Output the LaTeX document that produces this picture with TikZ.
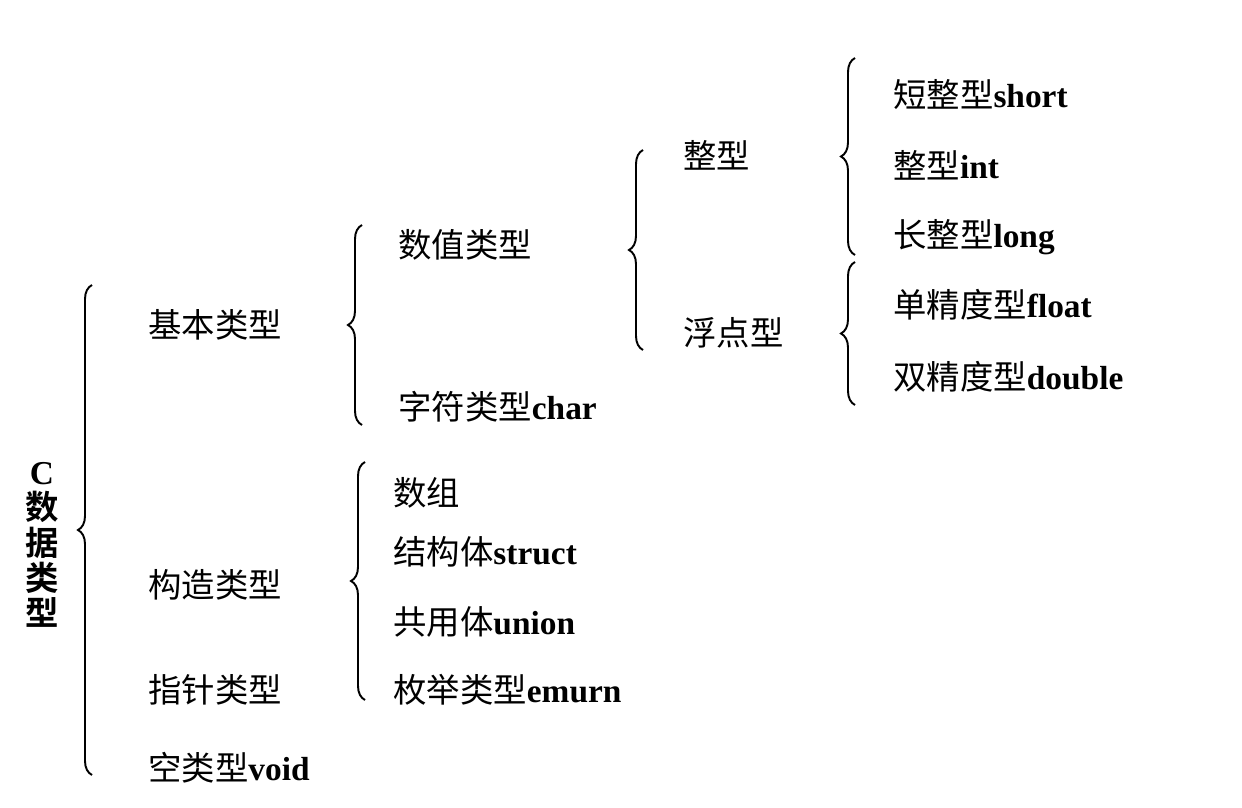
\documentclass[tikz,border=0pt]{standalone}
\usepackage{fontspec}
\setmainfont{Liberation Serif}
\newfontfamily\cjk{Noto Sans CJK SC}[BoldFont={* Bold}]
\usetikzlibrary{decorations.pathreplacing}
\begin{document}
\begin{tikzpicture}[x=0.02cm,y=-0.02cm,
  br/.style={decorate,decoration={brace,amplitude=0.28cm},line width=1.1pt},
  lbl/.style={anchor=west,inner sep=0pt,font=\fontsize{19}{22}\selectfont}]
\useasboundingbox (0,0) rectangle (1242,808);
% root
\node[inner sep=0pt,align=center,font=\fontsize{19}{22}\selectfont\bfseries] (root) at (42,545) {C\\[-2pt]{\cjk 数}\\[-2pt]{\cjk 据}\\[-2pt]{\cjk 类}\\[-2pt]{\cjk 型}};
\coordinate (b1s) at (92,775); \coordinate (b1e) at (92,285);
\draw[br] (b1s) -- (b1e);
\node[lbl] (jb) at (148,325) {\cjk 基本类型};
\node[lbl] (gz) at (148,585) {\cjk 构造类型};
\node[lbl] (zz) at (148,690) {\cjk 指针类型};
\node[lbl] (kong) at (148,768) {{\cjk 空类型}\textbf{void}};
% basic
\coordinate (b2s) at (362,425); \coordinate (b2e) at (362,225);
\draw[br] (b2s) -- (b2e);
\node[lbl] (sz) at (398,245) {\cjk 数值类型};
\node[lbl] (zf) at (398,407) {{\cjk 字符类型}\textbf{char}};
% numeric
\coordinate (b3s) at (643,350); \coordinate (b3e) at (643,150);
\draw[br] (b3s) -- (b3e);
\node[lbl] (zx) at (683,155) {\cjk 整型};
\node[lbl] (fd) at (683,333) {\cjk 浮点型};
% integer
\coordinate (b4s) at (855,255); \coordinate (b4e) at (855,58);
\draw[br] (b4s) -- (b4e);
\node[lbl] (short) at (893,95) {{\cjk 短整型}\textbf{short}};
\node[lbl] (int) at (893,165) {{\cjk 整型}\textbf{int}};
\node[lbl] (long) at (893,237) {{\cjk 长整型}\textbf{long}};
% float
\coordinate (b5s) at (855,405); \coordinate (b5e) at (855,262);
\draw[br] (b5s) -- (b5e);
\node[lbl] (flt) at (893,305) {{\cjk 单精度型}\textbf{float}};
\node[lbl] (dbl) at (893,377) {{\cjk 双精度型}\textbf{double}};
% constructed
\coordinate (b6s) at (365,700); \coordinate (b6e) at (365,462);
\draw[br] (b6s) -- (b6e);
\node[lbl] (arr) at (393,493) {\cjk 数组};
\node[lbl] (st) at (393,552) {{\cjk 结构体}\textbf{struct}};
\node[lbl] (un) at (393,622) {{\cjk 共用体}\textbf{union}};
\node[lbl] (en) at (393,690) {{\cjk 枚举类型}\textbf{emurn}};
\end{tikzpicture}
\end{document}
